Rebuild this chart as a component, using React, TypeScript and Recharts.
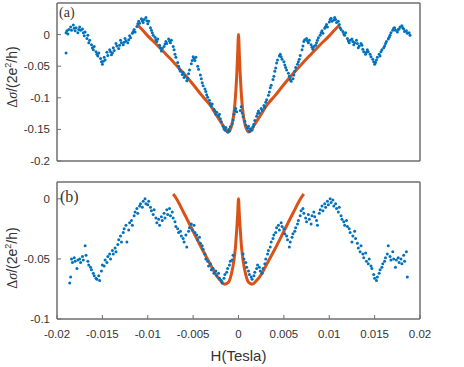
import React from 'react';
import { ComposedChart, Scatter, Line, XAxis, YAxis, ReferenceArea } from 'recharts';

// measured points, panel (a): [H (T), Δσ]
const dotsA: [number, number][] = [
  [-0.0190, 0.003], [-0.0190, -0.029], [-0.0189, 0.006], [-0.0188, 0.001], [-0.0187, 0.008],
  [-0.0185, 0.012], [-0.0184, 0.007], [-0.0182, 0.015], [-0.0181, 0.010], [-0.0180, 0.006],
  [-0.0179, 0.011], [-0.0177, 0.003], [-0.0176, 0.008], [-0.0175, 0.012], [-0.0174, 0.007],
  [-0.0172, 0.009], [-0.0171, 0.003], [-0.0170, -0.002], [-0.0169, 0.004], [-0.0167, -0.006],
  [-0.0166, -0.001], [-0.0165, -0.013], [-0.0164, -0.009], [-0.0162, -0.016], [-0.0161, -0.021],
  [-0.0160, -0.024], [-0.0159, -0.019], [-0.0157, -0.027], [-0.0156, -0.031], [-0.0155, -0.034],
  [-0.0154, -0.029], [-0.0152, -0.038], [-0.0151, -0.043], [-0.0150, -0.047], [-0.0149, -0.042],
  [-0.0148, -0.036], [-0.0147, -0.040], [-0.0145, -0.028], [-0.0144, -0.033], [-0.0142, -0.024],
  [-0.0141, -0.027], [-0.0140, -0.032], [-0.0139, -0.029], [-0.0138, -0.021], [-0.0137, -0.025],
  [-0.0135, -0.014], [-0.0134, -0.018], [-0.0132, -0.022], [-0.0131, -0.017], [-0.0130, -0.009],
  [-0.0129, -0.013], [-0.0127, -0.016], [-0.0126, -0.012], [-0.0125, -0.006], [-0.0124, -0.010],
  [-0.0122, -0.013], [-0.0121, -0.008], [-0.0120, -0.002], [-0.0119, -0.005], [-0.0117, 0.002],
  [-0.0116, 0.005], [-0.0115, 0.008], [-0.0114, 0.004], [-0.0112, 0.013], [-0.0111, 0.017],
  [-0.0110, 0.021], [-0.0109, 0.018], [-0.0107, 0.025], [-0.0106, 0.022], [-0.0105, 0.019],
  [-0.0104, 0.024], [-0.0102, 0.027], [-0.0101, 0.022], [-0.0100, 0.017], [-0.0099, 0.021],
  [-0.0097, 0.011], [-0.0096, 0.007], [-0.0095, 0.003], [-0.0094, -0.001], [-0.0092, -0.004],
  [-0.0091, -0.008], [-0.0090, -0.011], [-0.0089, -0.007], [-0.0087, -0.017], [-0.0086, -0.021],
  [-0.0085, -0.026], [-0.0084, -0.022], [-0.0082, -0.019], [-0.0081, -0.015], [-0.0080, -0.011],
  [-0.0079, -0.014], [-0.0077, -0.007], [-0.0076, -0.010], [-0.0075, -0.013], [-0.0074, -0.009],
  [-0.0072, -0.019], [-0.0071, -0.024], [-0.0070, -0.031], [-0.0069, -0.036], [-0.0067, -0.044],
  [-0.0066, -0.050], [-0.0065, -0.055], [-0.0064, -0.058], [-0.0062, -0.063], [-0.0061, -0.060],
  [-0.0060, -0.068], [-0.0059, -0.065], [-0.0057, -0.073], [-0.0056, -0.069], [-0.0055, -0.062],
  [-0.0054, -0.056], [-0.0052, -0.046], [-0.0051, -0.041], [-0.0050, -0.035], [-0.0049, -0.038],
  [-0.0048, -0.041], [-0.0047, -0.036], [-0.0045, -0.050], [-0.0044, -0.055], [-0.0042, -0.064],
  [-0.0041, -0.070], [-0.0040, -0.076], [-0.0039, -0.081], [-0.0037, -0.086], [-0.0036, -0.090],
  [-0.0035, -0.095], [-0.0034, -0.099], [-0.0032, -0.104], [-0.0031, -0.109], [-0.0030, -0.113],
  [-0.0029, -0.110], [-0.0027, -0.118], [-0.0026, -0.121], [-0.0025, -0.126], [-0.0024, -0.123],
  [-0.0022, -0.129], [-0.0021, -0.126], [-0.0020, -0.133], [-0.0019, -0.138], [-0.0017, -0.145],
  [-0.0016, -0.149], [-0.0015, -0.151], [-0.0014, -0.147], [-0.0012, -0.154], [-0.0011, -0.150],
  [-0.0010, -0.152], [-0.0009, -0.146], [-0.0007, -0.141], [-0.0006, -0.135], [-0.0005, -0.126],
  [-0.0004, -0.120], [-0.0003, -0.117], [-0.0002, -0.122],
  [0.0002, -0.120], [0.0003, -0.114], [0.0004, -0.124], [0.0005, -0.130], [0.0007, -0.137],
  [0.0008, -0.143], [0.0010, -0.148], [0.0011, -0.145], [0.0012, -0.153], [0.0013, -0.149],
  [0.0015, -0.151], [0.0016, -0.146], [0.0017, -0.142], [0.0018, -0.136], [0.0020, -0.129],
  [0.0021, -0.125], [0.0022, -0.121], [0.0023, -0.124], [0.0025, -0.117], [0.0026, -0.120],
  [0.0028, -0.112], [0.0029, -0.115], [0.0030, -0.107], [0.0031, -0.103], [0.0033, -0.096],
  [0.0034, -0.091], [0.0035, -0.084], [0.0036, -0.080], [0.0038, -0.071], [0.0039, -0.066],
  [0.0040, -0.058], [0.0041, -0.053], [0.0042, -0.045], [0.0043, -0.040], [0.0045, -0.034],
  [0.0046, -0.031], [0.0047, -0.035], [0.0048, -0.039], [0.0050, -0.043], [0.0051, -0.048],
  [0.0052, -0.052], [0.0053, -0.056], [0.0055, -0.061], [0.0056, -0.066], [0.0057, -0.071],
  [0.0058, -0.074], [0.0060, -0.070], [0.0061, -0.064], [0.0062, -0.058], [0.0063, -0.052],
  [0.0065, -0.047], [0.0066, -0.043], [0.0067, -0.039], [0.0068, -0.033], [0.0070, -0.024],
  [0.0071, -0.018], [0.0072, -0.011], [0.0073, -0.008], [0.0075, -0.006], [0.0076, -0.010],
  [0.0077, -0.013], [0.0078, -0.009], [0.0080, -0.016], [0.0081, -0.020], [0.0082, -0.023],
  [0.0083, -0.019], [0.0085, -0.017], [0.0086, -0.013], [0.0087, -0.009], [0.0088, -0.005],
  [0.0090, -0.001], [0.0091, 0.003], [0.0092, 0.006], [0.0093, 0.002], [0.0095, 0.010],
  [0.0096, 0.013], [0.0097, 0.016], [0.0098, 0.012], [0.0100, 0.020], [0.0101, 0.024],
  [0.0102, 0.026], [0.0103, 0.021], [0.0105, 0.023], [0.0106, 0.027], [0.0107, 0.024],
  [0.0108, 0.019], [0.0110, 0.021], [0.0111, 0.016], [0.0112, 0.011], [0.0113, 0.008],
  [0.0115, 0.005], [0.0116, 0.001], [0.0117, -0.001], [0.0118, 0.003], [0.0120, -0.006],
  [0.0121, -0.010], [0.0122, -0.013], [0.0123, -0.009], [0.0125, -0.007], [0.0126, -0.011],
  [0.0127, -0.016], [0.0128, -0.013], [0.0130, -0.009], [0.0131, -0.014], [0.0132, -0.021],
  [0.0133, -0.018], [0.0135, -0.014], [0.0136, -0.017], [0.0137, -0.023], [0.0138, -0.027],
  [0.0140, -0.031], [0.0141, -0.028], [0.0142, -0.024], [0.0143, -0.027], [0.0145, -0.031],
  [0.0146, -0.035], [0.0148, -0.039], [0.0149, -0.043], [0.0150, -0.047], [0.0151, -0.044],
  [0.0152, -0.040], [0.0153, -0.036], [0.0155, -0.031], [0.0156, -0.034], [0.0157, -0.027],
  [0.0158, -0.024], [0.0160, -0.021], [0.0161, -0.018], [0.0162, -0.014], [0.0163, -0.011],
  [0.0165, -0.007], [0.0166, -0.004], [0.0167, -0.001], [0.0168, 0.003], [0.0170, 0.007],
  [0.0171, 0.010], [0.0172, 0.011], [0.0173, 0.007], [0.0175, 0.004], [0.0176, 0.008],
  [0.0177, 0.009], [0.0178, 0.012], [0.0180, 0.014], [0.0181, 0.011], [0.0182, 0.009],
  [0.0183, 0.005], [0.0185, 0.006], [0.0186, 0.002], [0.0188, 0.003], [0.0189, -0.001],
];

// fit curve, panel (a)
const fitA: [number, number][] = [
  [-0.0111, 0.015], [-0.0105, 0.006], [-0.010, -0.002], [-0.009, -0.016], [-0.008, -0.031],
  [-0.007, -0.046], [-0.006, -0.062], [-0.005, -0.079], [-0.004, -0.097], [-0.003, -0.114],
  [-0.0025, -0.126], [-0.002, -0.137], [-0.0017, -0.144], [-0.0015, -0.149], [-0.0013, -0.153],
  [-0.0011, -0.154], [-0.0009, -0.150], [-0.0007, -0.141], [-0.0005, -0.124], [-0.0004, -0.110],
  [-0.0003, -0.091], [-0.0002, -0.066], [-0.0001, -0.033], [0, 0],
  [0.0001, -0.033], [0.0002, -0.066], [0.0003, -0.091], [0.0004, -0.110], [0.0005, -0.124],
  [0.0007, -0.141], [0.0009, -0.150], [0.0011, -0.154], [0.0013, -0.153], [0.0015, -0.149],
  [0.0017, -0.144], [0.002, -0.137], [0.0025, -0.126], [0.003, -0.114], [0.004, -0.097],
  [0.005, -0.079], [0.006, -0.062], [0.007, -0.046], [0.008, -0.031], [0.009, -0.016],
  [0.010, -0.002], [0.0105, 0.006], [0.0111, 0.015],
];

// measured points, panel (b)
const dotsB: [number, number][] = [
  [-0.0186, -0.070], [-0.0185, -0.065], [-0.0184, -0.050], [-0.0183, -0.053], [-0.0181, -0.049],
  [-0.0180, -0.052], [-0.0178, -0.058], [-0.0177, -0.051], [-0.0175, -0.050], [-0.0174, -0.053],
  [-0.0172, -0.048], [-0.0171, -0.051], [-0.0169, -0.039], [-0.0168, -0.047], [-0.0166, -0.052],
  [-0.0165, -0.055], [-0.0163, -0.057], [-0.0162, -0.059], [-0.0160, -0.062], [-0.0159, -0.064],
  [-0.0157, -0.066], [-0.0156, -0.067], [-0.0154, -0.064], [-0.0153, -0.068], [-0.0151, -0.060],
  [-0.0150, -0.055], [-0.0148, -0.056], [-0.0147, -0.051], [-0.0145, -0.053], [-0.0144, -0.048],
  [-0.0142, -0.046], [-0.0141, -0.050], [-0.0139, -0.043], [-0.0138, -0.046], [-0.0136, -0.041],
  [-0.0135, -0.044], [-0.0133, -0.038], [-0.0132, -0.034], [-0.0130, -0.031], [-0.0129, -0.036],
  [-0.0127, -0.028], [-0.0126, -0.025], [-0.0124, -0.022], [-0.0123, -0.036], [-0.0121, -0.026],
  [-0.0120, -0.020], [-0.0118, -0.018], [-0.0117, -0.022], [-0.0115, -0.014], [-0.0114, -0.011],
  [-0.0112, -0.008], [-0.0111, -0.012], [-0.0109, -0.006], [-0.0108, -0.004], [-0.0106, -0.007],
  [-0.0105, -0.002], [-0.0103, 0.000], [-0.0102, -0.004], [-0.0100, -0.005], [-0.0099, -0.002],
  [-0.0097, -0.007], [-0.0096, -0.010], [-0.0094, -0.013], [-0.0093, -0.009], [-0.0091, -0.016],
  [-0.0090, -0.020], [-0.0088, -0.017], [-0.0087, -0.022], [-0.0085, -0.015], [-0.0084, -0.018],
  [-0.0082, -0.012], [-0.0081, -0.016], [-0.0079, -0.009], [-0.0078, -0.013], [-0.0076, -0.008],
  [-0.0075, -0.014], [-0.0073, -0.011], [-0.0072, -0.016], [-0.0070, -0.019], [-0.0069, -0.023],
  [-0.0067, -0.025], [-0.0066, -0.028], [-0.0064, -0.027], [-0.0063, -0.031], [-0.0061, -0.033],
  [-0.0060, -0.036], [-0.0058, -0.030], [-0.0057, -0.040], [-0.0055, -0.027], [-0.0054, -0.024],
  [-0.0052, -0.021], [-0.0051, -0.026], [-0.0049, -0.022], [-0.0048, -0.028], [-0.0046, -0.030],
  [-0.0045, -0.034], [-0.0043, -0.032], [-0.0042, -0.037], [-0.0040, -0.039], [-0.0039, -0.042],
  [-0.0037, -0.046], [-0.0036, -0.050], [-0.0034, -0.052], [-0.0033, -0.056], [-0.0031, -0.054],
  [-0.0030, -0.059], [-0.0028, -0.058], [-0.0027, -0.062], [-0.0025, -0.060], [-0.0024, -0.064],
  [-0.0022, -0.062], [-0.0021, -0.066], [-0.0019, -0.068], [-0.0018, -0.070], [-0.0016, -0.066],
  [-0.0015, -0.063], [-0.0013, -0.061], [-0.0012, -0.058], [-0.0010, -0.055], [-0.0009, -0.052],
  [-0.0007, -0.051], [-0.0006, -0.047],
  [0.0005, -0.046], [0.0006, -0.050], [0.0008, -0.053], [0.0009, -0.057], [0.0011, -0.060],
  [0.0012, -0.063], [0.0014, -0.065], [0.0015, -0.067], [0.0017, -0.064], [0.0018, -0.061],
  [0.0020, -0.058], [0.0021, -0.055], [0.0023, -0.057], [0.0024, -0.060], [0.0026, -0.062],
  [0.0027, -0.058], [0.0029, -0.054], [0.0030, -0.050], [0.0032, -0.046], [0.0033, -0.043],
  [0.0035, -0.040], [0.0036, -0.036], [0.0038, -0.033], [0.0039, -0.030], [0.0041, -0.028],
  [0.0042, -0.024], [0.0044, -0.022], [0.0045, -0.026], [0.0047, -0.020], [0.0048, -0.023],
  [0.0050, -0.025], [0.0051, -0.029], [0.0053, -0.031], [0.0054, -0.034], [0.0056, -0.040],
  [0.0057, -0.036], [0.0059, -0.032], [0.0060, -0.029], [0.0062, -0.027], [0.0063, -0.024],
  [0.0065, -0.021], [0.0066, -0.018], [0.0068, -0.014], [0.0069, -0.010], [0.0071, -0.008],
  [0.0072, -0.012], [0.0074, -0.016], [0.0075, -0.019], [0.0077, -0.013], [0.0078, -0.017],
  [0.0080, -0.021], [0.0081, -0.014], [0.0083, -0.011], [0.0084, -0.015], [0.0086, -0.018],
  [0.0087, -0.022], [0.0089, -0.012], [0.0090, -0.009], [0.0092, -0.006], [0.0093, -0.010],
  [0.0095, -0.004], [0.0096, -0.007], [0.0098, -0.002], [0.0099, -0.005], [0.0101, 0.000],
  [0.0102, -0.003], [0.0104, -0.001], [0.0105, -0.006], [0.0107, -0.004], [0.0108, -0.008],
  [0.0110, -0.011], [0.0111, -0.007], [0.0113, -0.014], [0.0114, -0.017], [0.0116, -0.019],
  [0.0117, -0.022], [0.0119, -0.018], [0.0120, -0.023], [0.0122, -0.025], [0.0123, -0.028],
  [0.0125, -0.036], [0.0126, -0.031], [0.0128, -0.027], [0.0129, -0.033], [0.0131, -0.037],
  [0.0132, -0.041], [0.0134, -0.044], [0.0135, -0.039], [0.0137, -0.046], [0.0138, -0.049],
  [0.0140, -0.045], [0.0141, -0.052], [0.0143, -0.054], [0.0144, -0.050], [0.0146, -0.056],
  [0.0147, -0.058], [0.0149, -0.063], [0.0150, -0.066], [0.0152, -0.068], [0.0153, -0.065],
  [0.0155, -0.062], [0.0156, -0.059], [0.0158, -0.057], [0.0159, -0.054], [0.0161, -0.052],
  [0.0162, -0.049], [0.0164, -0.046], [0.0165, -0.039], [0.0167, -0.048], [0.0168, -0.051],
  [0.0170, -0.044], [0.0171, -0.050], [0.0173, -0.057], [0.0174, -0.051], [0.0176, -0.049],
  [0.0177, -0.053], [0.0179, -0.050], [0.0180, -0.054], [0.0182, -0.047], [0.0183, -0.052],
  [0.0185, -0.044], [0.0186, -0.065],
];

// fit curve, panel (b)
const fitB: [number, number][] = [
  [-0.0072, 0.004], [-0.007, 0.002], [-0.006, -0.012], [-0.005, -0.027], [-0.004, -0.042],
  [-0.003, -0.056], [-0.0025, -0.063], [-0.002, -0.068], [-0.0015, -0.071], [-0.0012, -0.070],
  [-0.001, -0.068], [-0.0008, -0.063], [-0.0006, -0.056], [-0.0004, -0.045], [-0.0003, -0.037],
  [-0.0002, -0.026], [-0.0001, -0.014], [0, 0],
  [0.0001, -0.014], [0.0002, -0.026], [0.0003, -0.037], [0.0004, -0.045], [0.0006, -0.056],
  [0.0008, -0.063], [0.001, -0.068], [0.0012, -0.070], [0.0015, -0.071], [0.002, -0.068],
  [0.0025, -0.063], [0.003, -0.056], [0.004, -0.042], [0.005, -0.027], [0.006, -0.012],
  [0.007, 0.002], [0.0072, 0.004],
];

const xTicks = [-0.02, -0.015, -0.01, -0.005, 0, 0.005, 0.01, 0.015, 0.02];
const yTicksA = [-0.2, -0.15, -0.1, -0.05, 0];
const yTicksB = [-0.1, -0.05, 0];

const BLUE = '#0072BD';
const ORANGE = '#D95319';
const AXIS = '#6e6e6e';
const TXT = '#333';
const SANS = '"Liberation Sans", Arial, sans-serif';
const SERIF = '"Liberation Serif", "Times New Roman", serif';

const toRows = (pts: [number, number][]) => pts.map(([h, v]) => ({ h, v }));

const Dot = (p: any) => <circle cx={p.cx} cy={p.cy} r={1.5} fill={BLUE} />;
const NoDot = () => <g />;

function Panel(props: {
  dots: [number, number][];
  fit: [number, number][];
  yDomain: [number, number];
  yTicks: number[];
  height: number;
  marginTop: number;
  xAxisHeight: number;
  showXLabels: boolean;
}) {
  const tickFont = { fontSize: 11.5, fill: TXT, fontFamily: SANS };
  return (
    <ComposedChart
      width={464}
      height={props.height}
      margin={{ top: props.marginTop - 1, right: 43, bottom: 0, left: 0 }}
    >
      <XAxis
        type="number"
        dataKey="h"
        domain={[-0.02, 0.02]}
        ticks={xTicks}
        allowDataOverflow
        height={props.xAxisHeight}
        tickSize={-4}
        tickMargin={15}
        tick={props.showXLabels ? tickFont : false}
        stroke={AXIS}
      />
      <XAxis
        xAxisId="top"
        orientation="top"
        type="number"
        dataKey="h"
        domain={[-0.02, 0.02]}
        ticks={xTicks}
        allowDataOverflow
        height={1}
        tickSize={-4}
        tick={false}
        stroke={AXIS}
      />
      <YAxis
        type="number"
        domain={props.yDomain}
        ticks={props.yTicks}
        allowDataOverflow
        width={57}
        tickSize={-4}
        tickMargin={11}
        tick={tickFont}
        stroke={AXIS}
      />
      <YAxis
        yAxisId="right"
        orientation="right"
        type="number"
        domain={props.yDomain}
        ticks={props.yTicks}
        allowDataOverflow
        width={1}
        tickSize={-4}
        tick={false}
        stroke={AXIS}
      />
      {/* box around the plot area */}
      <ReferenceArea
        x1={-0.02}
        x2={0.02}
        y1={props.yDomain[0]}
        y2={props.yDomain[1]}
        fill="none"
        stroke={AXIS}
        strokeWidth={1}
        ifOverflow="visible"
      />
      {/* invisible series so the mirrored box axes get drawn */}
      <Scatter
        data={toRows(props.fit)}
        dataKey="v"
        xAxisId="top"
        yAxisId="right"
        shape={NoDot}
        isAnimationActive={false}
      />
      <Scatter data={toRows(props.dots)} dataKey="v" shape={Dot} isAnimationActive={false} />
      <Line
        data={toRows(props.fit)}
        dataKey="v"
        type="monotone"
        stroke={ORANGE}
        strokeWidth={3}
        dot={false}
        activeDot={false}
        isAnimationActive={false}
      />
    </ComposedChart>
  );
}

function YLabel({ cx, cy }: { cx: number; cy: number }) {
  return (
    <div
      style={{
        position: 'absolute',
        left: cx,
        top: cy,
        transform: 'translate(-50%, -50%) rotate(-90deg)',
        whiteSpace: 'nowrap',
        fontSize: 14,
        fontFamily: SANS,
        color: TXT,
        lineHeight: 1,
      }}
    >
      <span style={{ fontFamily: SERIF }}>Δ<i>σ</i></span>/(2e<sup style={{ fontSize: 9 }}>2</sup>/h)
    </div>
  );
}

export default function App() {
  return (
    <div style={{ position: 'absolute', left: 0, top: 0, width: 464, height: 367, background: '#fff' }}>
      <div style={{ position: 'absolute', left: 0, top: 0 }}>
        <Panel
          dots={dotsA}
          fit={fitA}
          yDomain={[-0.2, 0.05]}
          yTicks={yTicksA}
          height={175}
          marginTop={3}
          xAxisHeight={14}
          showXLabels={false}
        />
      </div>
      <div style={{ position: 'absolute', left: 0, top: 170 }}>
        <Panel
          dots={dotsB}
          fit={fitB}
          yDomain={[-0.1, 0.014]}
          yTicks={yTicksB}
          height={197}
          marginTop={12}
          xAxisHeight={48}
          showXLabels={true}
        />
      </div>
      <div style={{ position: 'absolute', left: 59, top: 6, fontFamily: SERIF, fontSize: 14, color: TXT, lineHeight: 1 }}>
        (a)
      </div>
      <div style={{ position: 'absolute', left: 60, top: 189, fontFamily: SERIF, fontSize: 16, color: TXT, lineHeight: 1 }}>
        (b)
      </div>
      <YLabel cx={12} cy={77} />
      <YLabel cx={12} cy={258} />
      <div
        style={{
          position: 'absolute',
          left: 238.5,
          top: 348,
          transform: 'translateX(-50%)',
          fontFamily: SANS,
          fontSize: 15,
          color: TXT,
          lineHeight: 1,
          whiteSpace: 'nowrap',
        }}
      >
        H(Tesla)
      </div>
    </div>
  );
}
